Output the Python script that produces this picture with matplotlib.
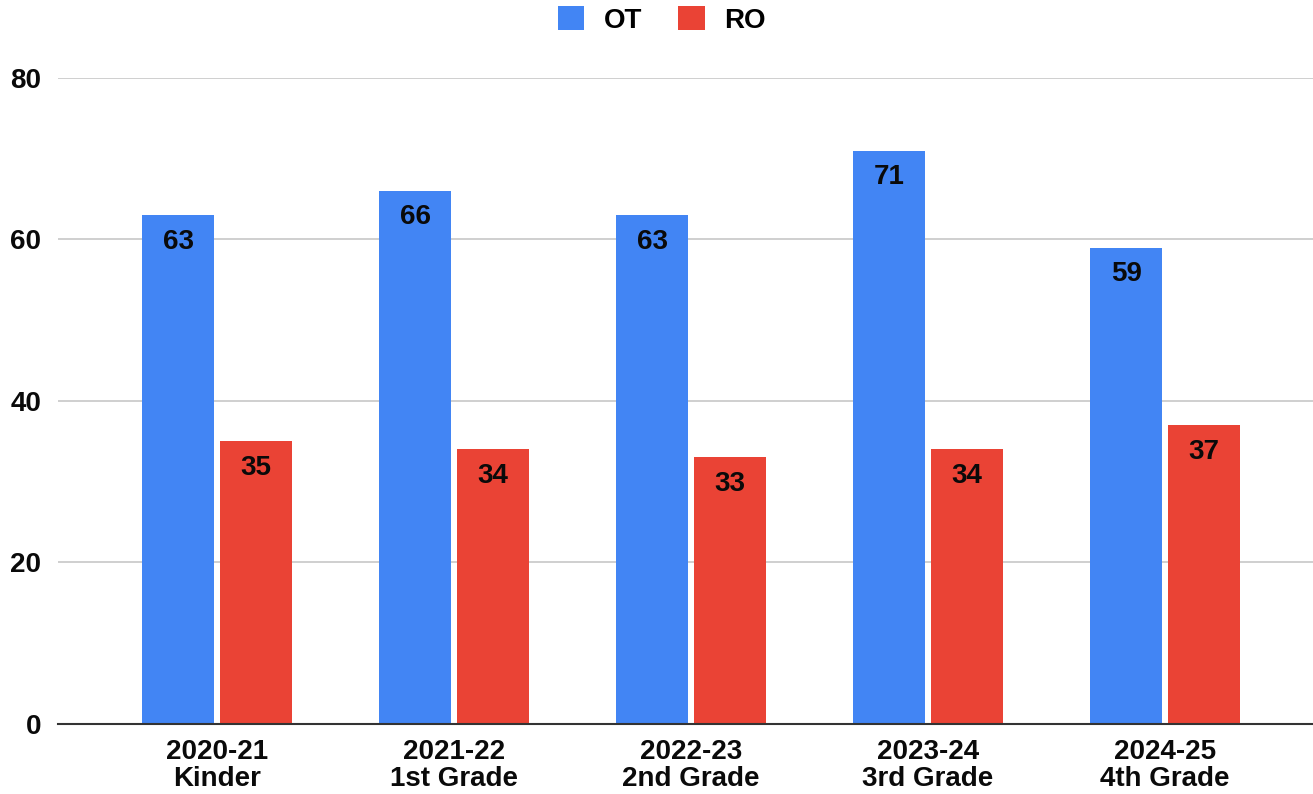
import numpy as np
import matplotlib.pyplot as plt
from matplotlib.patches import Patch

# data
categories = ['2020-21\nKinder', '2021-22\n1st Grade', '2022-23\n2nd Grade',
              '2023-24\n3rd Grade', '2024-25\n4th Grade']
ot_values = [63, 66, 63, 71, 59]
ro_values = [35, 34, 33, 34, 37]
series_names = ['OT', 'RO']
colors = ['#4285F4', '#EA4335']

plt.rcParams['font.family'] = ['Liberation Sans', 'DejaVu Sans']
plt.rcParams['font.weight'] = 'bold'

fig = plt.figure(figsize=(13.13, 7.94), dpi=100)
ax = fig.add_axes([0.0442, 0.0882, 0.9558, 0.8136])

x = np.arange(len(categories))
width = 0.304
offset = 0.1646

bars_ot = ax.bar(x - offset, ot_values, width, color=colors[0], zorder=3)
bars_ro = ax.bar(x + offset, ro_values, width, color=colors[1], zorder=3)

# value labels inside top of each bar
for bars in (bars_ot, bars_ro):
    for b in bars:
        ax.annotate(f'{int(b.get_height())}',
                    xy=(b.get_x() + b.get_width() / 2, b.get_height()),
                    xytext=(0, -19), textcoords='offset points',
                    ha='center', va='center', fontsize=20, fontweight='bold',
                    color='#0a0a0a', zorder=4)

ax.set_ylim(0, 80)
ax.set_xlim(-0.671, 4.624)
ax.set_yticks([0, 20, 40, 60, 80])
ax.set_xticks(x)
ax.set_xticklabels(categories, fontsize=20, fontweight='bold', linespacing=1.05)
ax.tick_params(axis='y', labelsize=20, length=0, pad=12, colors='#0a0a0a')
ax.tick_params(axis='x', length=0, pad=11, colors='#0a0a0a')

ax.grid(axis='y', color='#cccccc', linewidth=1.3, zorder=0)
for side in ['top', 'right', 'left']:
    ax.spines[side].set_visible(False)
ax.spines['bottom'].set_color('#333333')
ax.spines['bottom'].set_linewidth(1.5)
ax.spines['bottom'].set_zorder(5)

handles = [Patch(facecolor=c, label=n) for c, n in zip(colors, series_names)]
fig.legend(handles=handles, loc='center', bbox_to_anchor=(0.504, 0.975), ncol=2,
           frameon=False, handlelength=0.95, handleheight=0.95,
           handletextpad=0.7, columnspacing=1.3,
           prop={'weight': 'bold', 'size': 20})

fig.savefig('out.png', dpi=100)
